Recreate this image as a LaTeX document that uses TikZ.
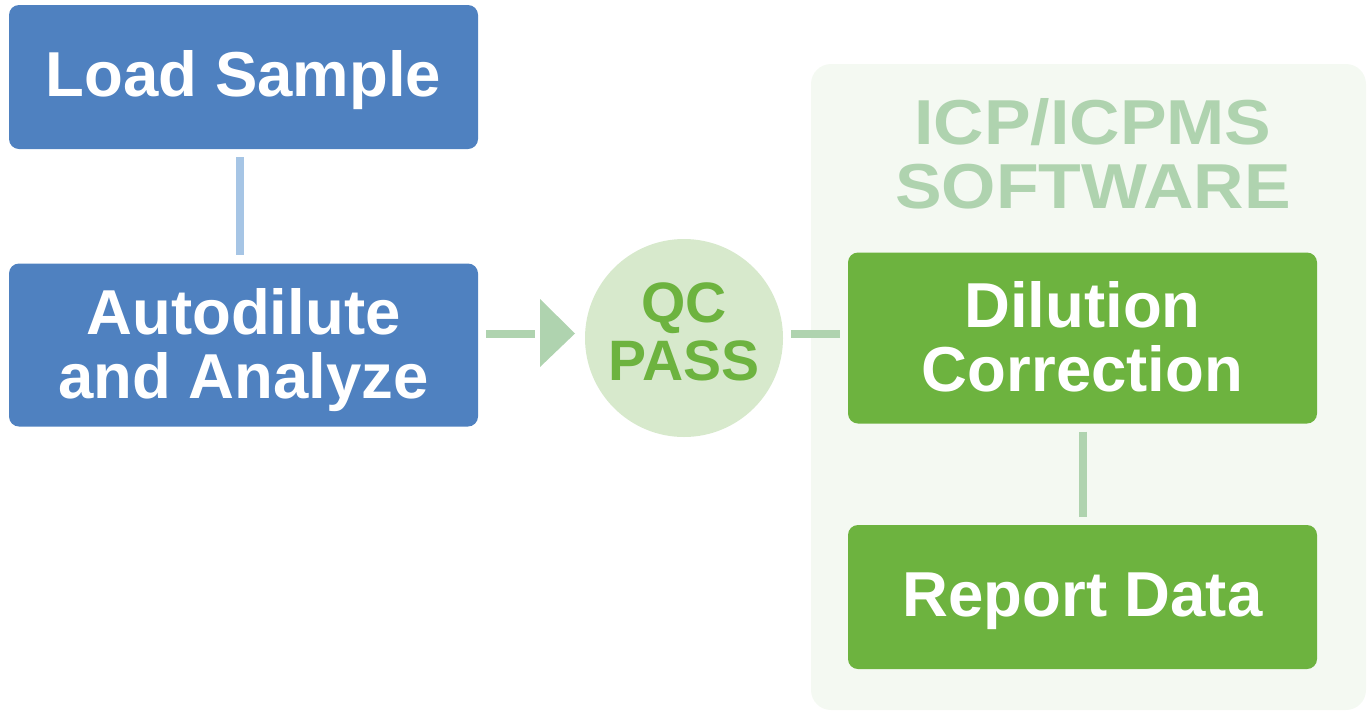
\documentclass[tikz,border=0pt]{standalone}
\usepackage{fontspec}
\setmainfont{Liberation Sans}
\newfontfamily\titlefont[FakeStretch=1.1]{Liberation Sans}
\definecolor{bluebox}{HTML}{4F81C0}
\definecolor{bluelink}{HTML}{A6C5E5}
\definecolor{greenbox}{HTML}{6DB33F}
\definecolor{greenlink}{HTML}{AFD3AF}
\definecolor{qcfill}{HTML}{D7E9CC}
\definecolor{panelfill}{HTML}{F4F9F2}
\newcommand{\upstrut}[1]{\rule{0pt}{#1pt}}
\newcommand{\downstrut}[1]{\rule[-#1pt]{0pt}{#1pt}}
\tikzset{x=1pt,y=-1pt,
 blueproc/.style={draw=none,fill=bluebox,rounded corners=10,inner sep=0,text=white,font=\fontsize{63.5}{64}\selectfont\bfseries,align=center},
 greenproc/.style={draw=none,fill=greenbox,rounded corners=10,inner sep=0,text=white,font=\fontsize{63.5}{64}\selectfont\bfseries,align=center},
 bluelinkline/.style={draw=bluelink,line width=8,shorten <=8,shorten >=8},
 greenlinkline/.style={draw=greenlink,line width=8,shorten <=8,shorten >=8}}
\begin{document}
\begin{tikzpicture}
\useasboundingbox (0,0) rectangle (1372,710);
\node[fill=panelfill,rounded corners=20,minimum width=555,minimum height=646,inner sep=0] (panel) at (1088.5,387) {};
\node[text=greenlink,font=\fontsize{63.5}{64}\titlefont\bfseries,align=center,inner sep=0] (title) at (1093,153) {\upstrut{60}ICP/ICPMS\\SOFTWARE\downstrut{14}};
\node[blueproc,minimum width=469,minimum height=144] (load) at (243.5,77) {\upstrut{60}Load Sample\downstrut{20.6}};
\node[blueproc,minimum width=469,minimum height=163] (auto) at (243.5,345) {\upstrut{60}Autodilute\\and Analyze\downstrut{17.4}};
\node[greenproc,minimum width=469,minimum height=171] (dil) at (1082.5,338) {\upstrut{60}Dilution\\Correction\downstrut{18}};
\node[greenproc,minimum width=469,minimum height=144] (rep) at (1082.5,597) {\upstrut{60}Report Data\downstrut{20.6}};
\node[circle,fill=qcfill,minimum size=198,inner sep=0,text=greenbox,font=\fontsize{57}{58}\selectfont\bfseries,align=center] (qc) at (684,338) {\upstrut{40}QC\\PASS\downstrut{13.6}};
\coordinate (a2) at (543,334);
\coordinate (tipa) at (540,299);
\coordinate (tipb) at (575,333.5);
\coordinate (tipc) at (540,367);
\draw[bluelinkline] ([xshift=-4]load.south) -- ([xshift=-4]auto.north);
\draw[greenlinkline] ([yshift=11]auto.east) -- (a2);
\fill[greenlink] (tipa) -- (tipb) -- (tipc) -- cycle;
\draw[greenlinkline] ([yshift=4]qc.east) -- ([yshift=4]dil.west);
\draw[greenlinkline] (dil.south) -- (rep.north);
\end{tikzpicture}
\end{document}
